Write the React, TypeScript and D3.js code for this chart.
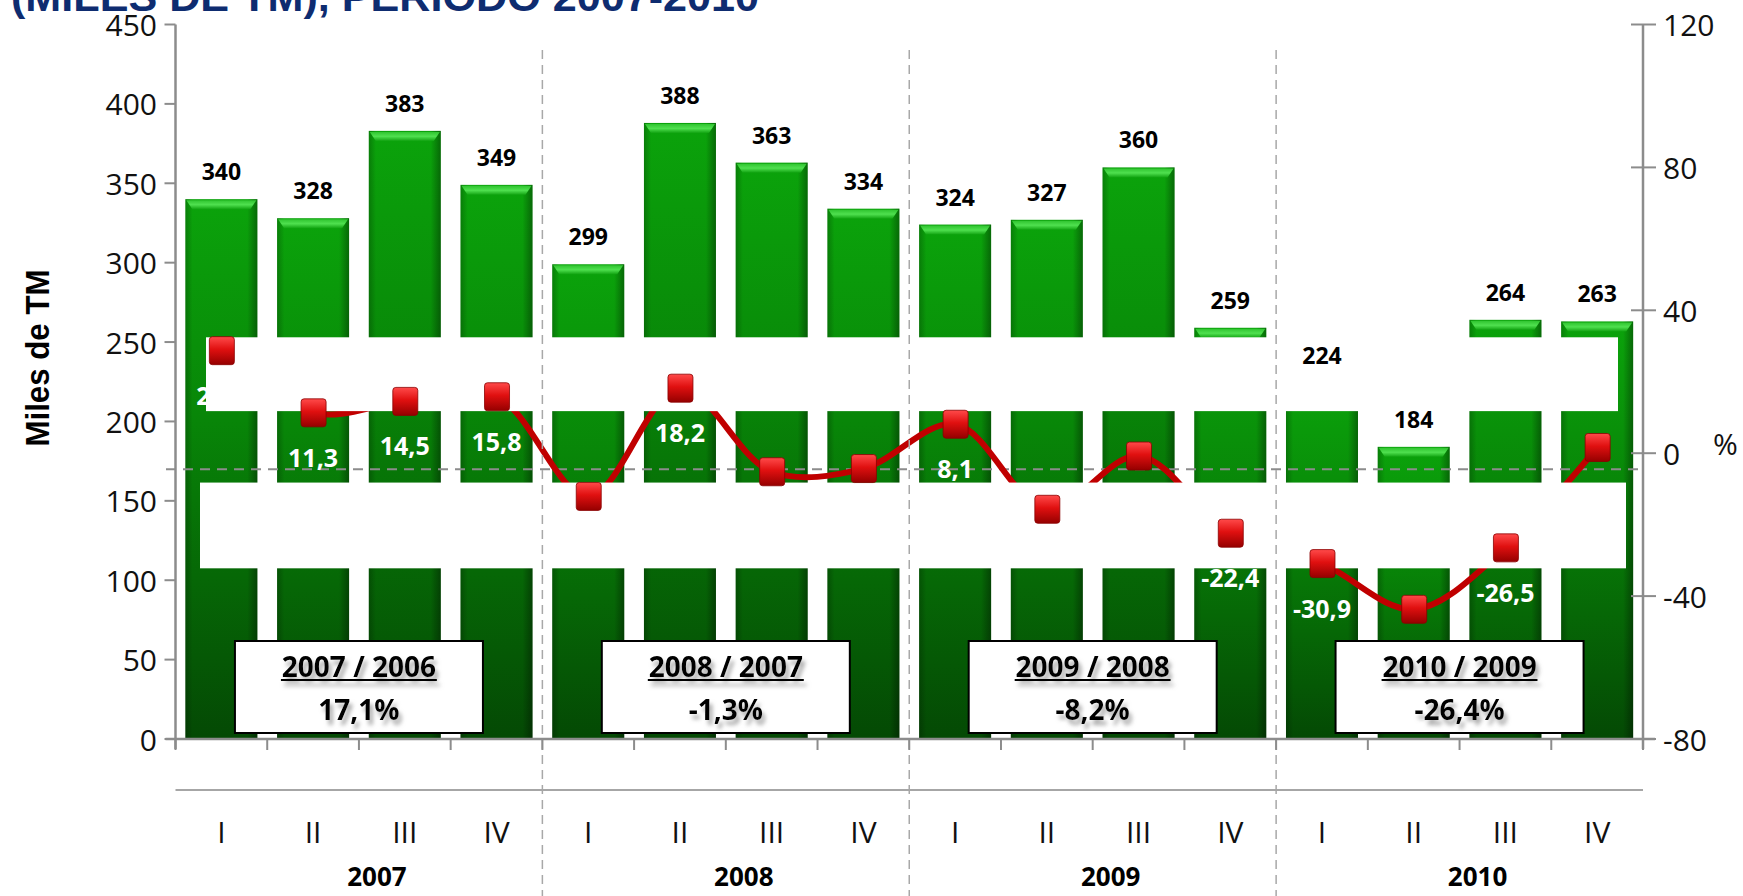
import React from "react";
import * as d3 from "d3";

// ---------- data ----------
const quarters = ["I", "II", "III", "IV", "I", "II", "III", "IV", "I", "II", "III", "IV", "I", "II", "III", "IV"];
const years = ["2007", "2008", "2009", "2010"];
const production = [340, 328, 383, 349, 299, 388, 363, 334, 324, 327, 360, 259, 224, 184, 264, 263];
const growth = [28.7, 11.3, 14.5, 15.8, -12.1, 18.2, -5.2, -4.3, 8.1, -15.7, -0.8, -22.4, -30.9, -43.7, -26.5, 1.6];
const growthLabels = ["28,7", "11,3", "14,5", "15,8", "-12,1", "18,2", "-5,2", "-4,3", "8,1", "-15,7", "-0,8", "-22,4", "-30,9", "-43,7", "-26,5", "1,6"];
const annualPeriods = ["2007 / 2006", "2008 / 2007", "2009 / 2008", "2010 / 2009"];
const annualGrowth = ["17,1%", "-1,3%", "-8,2%", "-26,4%"];
const leftTicks = [0, 50, 100, 150, 200, 250, 300, 350, 400, 450];
const rightTicks = [-80, -40, 0, 40, 80, 120];
const growthReference = -4.5;
const titleText = "(MILES DE TM), PERIODO 2007-2010";
const yAxisTitle = "Miles de TM";

// ---------- layout ----------
const W = 1743;
const H = 896;
const X0 = 175.5;
const X1 = 1643;
const Y0 = 739;
const Y1 = 24.5;
const BOX_TOP = 641;
const BOX_H = 92;
const BOX_W = 248;

const idx = d3.range(production.length).map(String);
const x = d3.scaleBand<string>().domain(idx).range([X0, X1]).paddingInner(0.215).paddingOuter(0.1075);
const step = x.step();
const yL = d3.scaleLinear().domain([0, 450]).range([Y0, Y1]);
const yR = d3.scaleLinear().domain([-80, 120]).range([Y0, Y1]);
const cx = (i: number) => (x(String(i)) as number) + x.bandwidth() / 2;

const line = d3
  .line<number>()
  .x((_, i) => cx(i))
  .y((d) => yR(d))
  .curve(d3.curveCatmullRom.alpha(0.5));

// white occluding stripes (in left-axis units)
const stripes = [
  { x0: 206, x1: 1618, v0: 253, v1: 206.5 },
  { x0: 200, x1: 1626, v0: 161.5, v1: 107.5 },
];

const fontNum = "'Open Sans', 'Noto Sans', sans-serif";
const axisGray = "#8c8c8c";

export default function App() {
  const bw = x.bandwidth();
  const groupW = step * 4;
  const boxCenter = (k: number) => X0 + groupW * (k + 0.5);
  // labels that would sit underneath an annual box are hidden by it
  const underBox = (i: number, yy: number) => {
    const k = Math.floor(i / 4);
    const c = boxCenter(k);
    return yy > BOX_TOP - 12 && Math.abs(cx(i) - c) < BOX_W / 2;
  };
  return (
    <svg
      width={W}
      height={H}
      viewBox={`0 0 ${W} ${H}`}
      style={{ position: "absolute", left: 0, top: 0, display: "block", background: "#fff" }}
    >
      <defs>
        <linearGradient id="barV" x1="0" y1="0" x2="0" y2="1">
          <stop offset="0%" stopColor="#0ba30b" />
          <stop offset="40%" stopColor="#088608" />
          <stop offset="100%" stopColor="#044904" />
        </linearGradient>
        <linearGradient id="barH" x1="0" y1="0" x2="1" y2="0">
          <stop offset="0%" stopColor="#000" stopOpacity="0.22" />
          <stop offset="10%" stopColor="#000" stopOpacity="0" />
          <stop offset="86%" stopColor="#000" stopOpacity="0" />
          <stop offset="100%" stopColor="#000" stopOpacity="0.35" />
        </linearGradient>
        <linearGradient id="barTop" x1="0" y1="0" x2="0" y2="1">
          <stop offset="0%" stopColor="#2fc42f" />
          <stop offset="50%" stopColor="#4fe04f" />
          <stop offset="100%" stopColor="#12a412" />
        </linearGradient>
        <linearGradient id="markG" x1="0" y1="0" x2="0" y2="1">
          <stop offset="0%" stopColor="#ff4a4a" />
          <stop offset="45%" stopColor="#e01010" />
          <stop offset="100%" stopColor="#950000" />
        </linearGradient>
        <filter id="txtShadow" x="-20%" y="-40%" width="150%" height="200%">
          <feGaussianBlur in="SourceAlpha" stdDeviation="2.2" />
          <feOffset dx="3" dy="5" result="b" />
          <feFlood floodColor="#9a9a9a" floodOpacity="0.85" />
          <feComposite in2="b" operator="in" result="s" />
          <feMerge>
            <feMergeNode in="s" />
            <feMergeNode in="SourceGraphic" />
          </feMerge>
        </filter>
      </defs>

      {/* title (cut off at the top) */}
      <text
        x={11}
        y={11}
        fontFamily="'Liberation Sans', Arial, sans-serif"
        fontWeight="bold"
        fontSize={40}
        fill="#0e2c70"
        textLength={748}
        lengthAdjust="spacingAndGlyphs"
      >
        {titleText}
      </text>

      {/* bars */}
      {production.map((v, i) => {
        const bx = x(String(i)) as number;
        const by = yL(v);
        const bh = Y0 - by;
        return (
          <g key={"b" + i}>
            <rect x={bx} y={by} width={bw} height={bh} fill="url(#barV)" />
            <rect x={bx} y={by} width={bw} height={bh} fill="url(#barH)" />
            <path
              d={`M${bx + 1},${by + 1} L${bx + bw - 1},${by + 1} L${bx + bw - 7},${by + 10} L${bx + 7},${by + 10} Z`}
              fill="url(#barTop)"
            />
          </g>
        );
      })}

      {/* reference dashed line */}
      <line
        x1={166}
        x2={X1}
        y1={yR(growthReference)}
        y2={yR(growthReference)}
        stroke={axisGray}
        strokeWidth={2}
        strokeDasharray="10,7"
      />

      {/* growth line */}
      <path d={line(growth) || ""} fill="none" stroke="#c00000" strokeWidth={6} strokeLinejoin="round" />

      {/* growth labels */}
      {growth.map((g, i) =>
        underBox(i, yR(g) + 44) ? null : (
          <text
            key={"gl" + i}
            x={cx(i)}
            y={yR(g) + 44}
            textAnchor="middle"
            dominantBaseline="central"
            fontFamily={fontNum}
            fontWeight="bold"
            fontSize={25}
            fill="#fff"
          >
            {growthLabels[i]}
          </text>
        )
      )}

      {/* white stripes */}
      {stripes.map((s, i) => (
        <rect key={"s" + i} x={s.x0} y={yL(s.v0)} width={s.x1 - s.x0} height={yL(s.v1) - yL(s.v0)} fill="#fff" />
      ))}

      {/* group separators */}
      {[1, 2, 3].map((k) => (
        <line
          key={"sep" + k}
          x1={X0 + groupW * k}
          x2={X0 + groupW * k}
          y1={50}
          y2={H}
          stroke="#a8a8a8"
          strokeWidth={1.5}
          strokeDasharray="9,6"
        />
      ))}

      {/* markers */}
      {growth.map((g, i) => (
        <rect
          key={"m" + i}
          x={cx(i) - 12}
          y={yR(g) - 14}
          width={25}
          height={28}
          rx={3}
          fill="url(#markG)"
          stroke="#8a0000"
          strokeWidth={0.8}
        />
      ))}

      {/* bar value labels */}
      {production.map((v, i) => (
        <text
          key={"bl" + i}
          x={cx(i)}
          y={yL(v) - 28}
          textAnchor="middle"
          dominantBaseline="central"
          fontFamily={fontNum}
          fontWeight="bold"
          fontSize={23}
          fill="#000"
        >
          {v}
        </text>
      ))}

      {/* axes */}
      <line x1={X0} x2={X0} y1={Y1} y2={Y0 + 10} stroke={axisGray} strokeWidth={2.5} />
      <line x1={X1} x2={X1} y1={Y1} y2={Y0 + 10} stroke={axisGray} strokeWidth={2.5} />
      <line x1={X0 - 10} x2={X1 + 12} y1={Y0} y2={Y0} stroke={axisGray} strokeWidth={2.5} />
      {leftTicks.map((t) => (
        <g key={"lt" + t}>
          <line x1={X0 - 11} x2={X0} y1={yL(t)} y2={yL(t)} stroke={axisGray} strokeWidth={2} />
          <text
            x={157}
            y={yL(t)}
            textAnchor="end"
            dominantBaseline="central"
            fontFamily={fontNum}
            fontSize={30}
            fill="#111"
          >
            {t}
          </text>
        </g>
      ))}
      {rightTicks.map((t) => (
        <g key={"rt" + t}>
          <line x1={X1 - 12} x2={X1 + 13} y1={yR(t)} y2={yR(t)} stroke={axisGray} strokeWidth={2} />
          <text
            x={1663}
            y={yR(t)}
            textAnchor="start"
            dominantBaseline="central"
            fontFamily={fontNum}
            fontSize={30}
            fill="#111"
          >
            {t}
          </text>
        </g>
      ))}
      <text x={1713} y={yR(0) - 10} dominantBaseline="central" fontFamily={fontNum} fontSize={30} fill="#111">
        %
      </text>

      {/* category ticks */}
      {d3.range(production.length + 1).map((k) => (
        <line
          key={"ct" + k}
          x1={X0 + step * k}
          x2={X0 + step * k}
          y1={Y0}
          y2={Y0 + 11}
          stroke={axisGray}
          strokeWidth={2}
        />
      ))}

      {/* quarter labels */}
      {quarters.map((q, i) => (
        <text
          key={"q" + i}
          x={cx(i)}
          y={831}
          textAnchor="middle"
          dominantBaseline="central"
          fontFamily={fontNum}
          fontSize={30}
          fill="#111"
        >
          {q}
        </text>
      ))}
      <line x1={X0} x2={X1} y1={790} y2={790} stroke="#a6a6a6" strokeWidth={2} />

      {/* year labels */}
      {years.map((yv, k) => (
        <text
          key={"y" + k}
          x={boxCenter(k) + 18}
          y={876}
          textAnchor="middle"
          dominantBaseline="central"
          fontFamily={fontNum}
          fontWeight="bold"
          fontSize={26}
          fill="#000"
        >
          {yv}
        </text>
      ))}

      {/* annual boxes */}
      {annualPeriods.map((p, k) => {
        const c = boxCenter(k);
        return (
          <g key={"box" + k}>
            <rect x={c - BOX_W / 2} y={BOX_TOP} width={BOX_W} height={BOX_H} fill="#fff" stroke="#000" strokeWidth={2} />
            <g filter="url(#txtShadow)">
              <text
                x={c}
                y={666}
                textAnchor="middle"
                dominantBaseline="central"
                fontFamily={fontNum}
                fontWeight="bold"
                fontSize={28}
                fill="#000"
              >
                {p}
              </text>
              <line x1={c - 78} x2={c + 78} y1={680} y2={680} stroke="#000" strokeWidth={2} />
              <text
                x={c}
                y={709}
                textAnchor="middle"
                dominantBaseline="central"
                fontFamily={fontNum}
                fontWeight="bold"
                fontSize={28}
                fill="#000"
              >
                {annualGrowth[k]}
              </text>
            </g>
          </g>
        );
      })}

      {/* y axis title */}
      <text
        transform="translate(49,358) rotate(-90)"
        textAnchor="middle"
        fontFamily="'Liberation Sans', Arial, sans-serif"
        fontWeight="bold"
        fontSize={33}
        fill="#000"
        textLength={177}
        lengthAdjust="spacingAndGlyphs"
      >
        {yAxisTitle}
      </text>
    </svg>
  );
}
